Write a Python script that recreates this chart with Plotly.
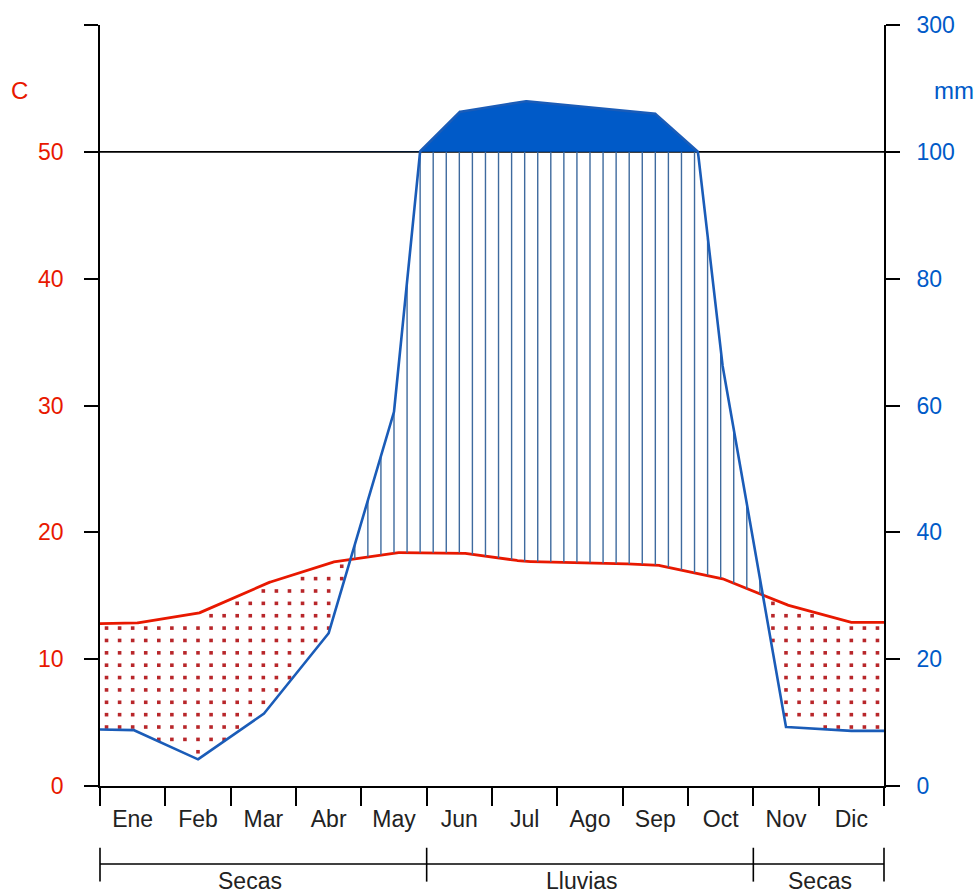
import numpy as np
import plotly.graph_objects as go

# Monthly climate normals
months = ["Ene", "Feb", "Mar", "Abr", "May", "Jun", "Jul", "Ago", "Sep", "Oct", "Nov", "Dic"]
temp_c = [12.8, 13.6, 15.9, 17.6, 18.4, 18.4, 17.7, 17.6, 17.45, 16.4, 14.3, 12.9]
precip_mm = [8.9, 4.2, 11.3, 24.1, 59.0, 163.0, 180.0, 170.0, 160.0, 68.0, 9.3, 8.7]

# Period bar under the month axis
periods = ["Secas", "Lluvias", "Secas"]
period_bounds = [0, 5, 10, 12]
period_label_x = [2.3, 7.38, 11.02]

# Axis ticks (right axis in mm, reduced scale above 100 mm)
temp_ticks = [0, 10, 20, 30, 40, 50]
mm_ticks = [0, 20, 40, 60, 80, 100, 300]

TCOL = "#e81800"
PCOL = "#005ac8"
HATCHCOL = "#3e6a9e"
DOTCOL = "#b8262a"
FONT = "Liberation Sans, Arial, sans-serif"

# Pixel geometry of the plotting area
M_L, M_R, M_T, M_B = 100, 94, 22, 109
W, H = 978, 895
PLOT_W = W - M_L - M_R
PLOT_H = H - M_T - M_B
Y0_PX = H - M_B


def mm_to_scale(p):
    """Walter-Lieth scale: 20 mm per 10 C up to 100 mm, 200 mm per 10 C above."""
    p = np.asarray(p, dtype=float)
    return np.where(p <= 100, p / 2.0, 50 + (p - 100) / 20.0)


def scale_of_mm(mm):
    return float(mm_to_scale([mm])[0])


def px_to_paper(px, py):
    return (px - M_L) / PLOT_W, (Y0_PX - py) / PLOT_H


centers = np.arange(12) + 0.5
xs = np.concatenate([[0.0], np.linspace(0.5, 11.5, 1101), [12.0]])
t_fine = np.interp(xs, centers, temp_c)
p_fine_mm = np.interp(xs, centers, precip_mm)
p_fine = mm_to_scale(p_fine_mm)

# Hatching positions: five per month
xh = (np.arange(60) + 0.5) / 5.0
t_h = np.interp(xh, centers, temp_c)
p_h = mm_to_scale(np.interp(xh, centers, precip_mm))

# Humid period: vertical lines from temperature to precipitation (capped at 100 mm)
wx, wy = [], []
for x, t, p in zip(xh, t_h, p_h):
    if p > t:
        wx += [x, x, None]
        wy += [t, min(p, 50.0), None]

# Dry period: dotted columns from precipitation up to temperature
row_step = 0.975
row0 = 0.75
dx, dy = [], []
for x, t, p in zip(xh, t_h, p_h):
    if p < t:
        k = int(np.ceil((p - row0) / row_step + 0.15))
        while row0 + k * row_step < t - 0.3:
            dx.append(x)
            dy.append(row0 + k * row_step)
            k += 1

fig = go.Figure()

fig.add_trace(go.Scatter(x=wx, y=wy, mode="lines", line=dict(color=HATCHCOL, width=1.4),
                         hoverinfo="skip", showlegend=False, yaxis="y2"))
fig.add_trace(go.Scatter(x=dx, y=dy, mode="markers",
                         marker=dict(symbol="square", size=3.6, color=DOTCOL, line=dict(width=0)),
                         hoverinfo="skip", showlegend=False))

# Super-humid part (> 100 mm) filled solid
fig.add_trace(go.Scatter(x=xs, y=np.full_like(xs, 50.0), mode="lines",
                         line=dict(width=0, color=PCOL), hoverinfo="skip",
                         showlegend=False, yaxis="y2"))
fig.add_trace(go.Scatter(x=xs, y=np.maximum(p_fine, 50.0), mode="lines",
                         line=dict(width=0, color=PCOL), fill="tonexty", fillcolor=PCOL,
                         hoverinfo="skip", showlegend=False, yaxis="y2"))

fig.add_trace(go.Scatter(x=xs, y=p_fine, mode="lines", line=dict(color="#1a5cb8", width=2.6),
                         name="Precipitación", showlegend=False, yaxis="y2"))
fig.add_trace(go.Scatter(x=xs, y=t_fine, mode="lines", line=dict(color=TCOL, width=2.8),
                         name="Temperatura", showlegend=False))

shapes = [dict(type="line", xref="x", yref="y", x0=0, x1=12, y0=50, y1=50,
               line=dict(color="black", width=1.6), layer="below")]

# Period bracket below the month labels
_, bar_y = px_to_paper(0, 864.3)
_, tick_top = px_to_paper(0, 848)
_, tick_bot = px_to_paper(0, 882)
shapes.append(dict(type="line", xref="paper", yref="paper",
                   x0=period_bounds[0] / 12, x1=period_bounds[-1] / 12, y0=bar_y, y1=bar_y,
                   line=dict(color="black", width=1.6)))
for b in period_bounds:
    shapes.append(dict(type="line", xref="paper", yref="paper",
                       x0=b / 12, x1=b / 12, y0=tick_top, y1=tick_bot,
                       line=dict(color="black", width=1.6)))

cx, cy = px_to_paper(19, 88)
mx, my = px_to_paper(954, 88)
annotations = [
    dict(text="C", x=cx, y=cy, xref="paper", yref="paper", showarrow=False,
         xanchor="center", yanchor="middle",
         font=dict(family=FONT, size=24, color=TCOL)),
    dict(text="mm", x=mx, y=my, xref="paper", yref="paper", showarrow=False,
         xanchor="center", yanchor="middle",
         font=dict(family=FONT, size=24, color=PCOL)),
]
_, py_lab = px_to_paper(0, 881)
for name, x in zip(periods, period_label_x):
    annotations.append(dict(text=name, x=x / 12, y=py_lab, xref="paper", yref="paper",
                            showarrow=False, xanchor="center", yanchor="middle",
                            font=dict(family=FONT, size=23, color="#222222")))

fig.update_layout(
    width=W, height=H, autosize=False,
    margin=dict(l=M_L, r=M_R, t=M_T, b=M_B),
    paper_bgcolor="white", plot_bgcolor="white",
    showlegend=False,
    shapes=shapes, annotations=annotations,
    xaxis=dict(range=[0, 12], tickmode="array", tickvals=list(centers), ticktext=months,
               ticks="", showgrid=False, zeroline=False, showline=True,
               linecolor="black", linewidth=1.6,
               tickfont=dict(family=FONT, size=23, color="#222222"),
               ticklabelstandoff=12,
               minor=dict(tickmode="linear", tick0=0, dtick=1, ticks="outside",
                          ticklen=18, tickwidth=1.6, tickcolor="black", showgrid=False)),
    yaxis=dict(range=[0, 60], tickmode="array", tickvals=temp_ticks + [60],
               ticktext=[str(v) for v in temp_ticks] + [""],
               ticks="outside", ticklen=14, tickwidth=1.6, tickcolor="black",
               showline=True, linecolor="black", linewidth=1.6,
               showgrid=False, zeroline=False, ticklabelstandoff=16,
               tickfont=dict(family=FONT, size=23, color=TCOL)),
    yaxis2=dict(range=[0, 60], overlaying="y", side="right", tickmode="array",
                tickvals=[scale_of_mm(v) for v in mm_ticks],
                ticktext=[str(v) for v in mm_ticks],
                ticks="outside", ticklen=14, tickwidth=1.6, tickcolor="black",
                showline=True, linecolor="black", linewidth=1.6,
                showgrid=False, zeroline=False, ticklabelstandoff=12,
                tickfont=dict(family=FONT, size=23, color=PCOL)),
)

fig.write_html("out.html")
